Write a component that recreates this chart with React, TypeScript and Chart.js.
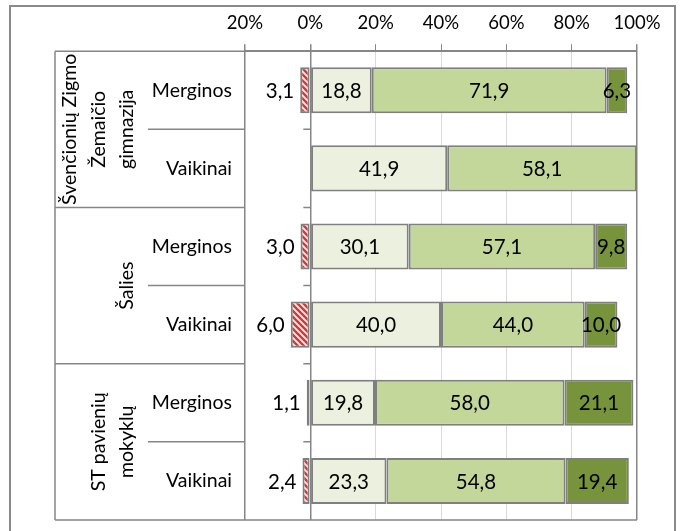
import React, { useEffect, useRef } from 'react';
import { Chart, registerables } from 'chart.js';

Chart.register(...registerables);

// ---- Data ----
const groupLabels: string[][] = [
  ['Švenčionių Zigmo', 'Žemaičio', 'gimnazija'],
  ['Šalies'],
  ['ST pavienių', 'mokyklų'],
];
const subLabels = ['Merginos', 'Vaikinai', 'Merginos', 'Vaikinai', 'Merginos', 'Vaikinai'];
const negValues: (number | null)[] = [-3.1, null, -3.0, -6.0, -1.1, -2.4];
const lowValues: (number | null)[] = [18.8, 41.9, 30.1, 40.0, 19.8, 23.3];
const midValues: (number | null)[] = [71.9, 58.1, 57.1, 44.0, 58.0, 54.8];
const highValues: (number | null)[] = [6.3, null, 9.8, 10.0, 21.1, 19.4];
const xMin = -20;
const xMax = 100;
const xStep = 20;

const FONT = 'Lato, "Open Sans", sans-serif';
const AXIS_GRAY = '#868686';
const GRID_GRAY = '#d9d9d9';

function makePattern(): CanvasPattern | string {
  const s = 6;
  const c = document.createElement('canvas');
  c.width = s;
  c.height = s;
  const p = c.getContext('2d');
  if (!p) return '#c0504d';
  p.fillStyle = '#fbe4e4';
  p.fillRect(0, 0, s, s);
  p.strokeStyle = '#c63d3a';
  p.lineWidth = 2.3;
  p.beginPath();
  for (const k of [-s, 0, s]) {
    p.moveTo(k - 1, -1);
    p.lineTo(k + s + 1, s + 1);
  }
  p.stroke();
  const pat = p.createPattern(c, 'repeat');
  return pat || '#c0504d';
}

const fmt = (v: number) => Math.abs(v).toFixed(1).replace('.', ',');

const decorPlugin = {
  id: 'decor',
  beforeDraw(chart: any) {
    const ctx = chart.ctx;
    ctx.save();
    ctx.fillStyle = '#ffffff';
    ctx.fillRect(0, 0, chart.width, chart.height);
    ctx.restore();
  },
  afterDraw(chart: any) {
    const ctx: CanvasRenderingContext2D = chart.ctx;
    const area = chart.chartArea;
    const xScale = chart.scales.x;
    const n = subLabels.length;
    const rowH = (area.bottom - area.top) / n;
    const catLeft = 55;
    const subLeft = 148;
    const x0 = xScale.getPixelForValue(0);

    ctx.save();
    // outer frame
    ctx.strokeStyle = '#8a8a8a';
    ctx.lineWidth = 2;
    ctx.strokeRect(10, 6, 665, 600);

    // category area lines
    ctx.strokeStyle = AXIS_GRAY;
    ctx.lineWidth = 1.5;
    ctx.beginPath();
    ctx.moveTo(catLeft, area.top);
    ctx.lineTo(area.left, area.top);
    ctx.moveTo(catLeft, area.bottom);
    ctx.lineTo(area.right, area.bottom);
    ctx.moveTo(catLeft, area.top);
    ctx.lineTo(catLeft, area.bottom);
    for (let i = 1; i < n; i++) {
      const y = area.top + i * rowH;
      ctx.moveTo(i % 2 === 0 ? catLeft : subLeft, y);
      ctx.lineTo(area.left, y);
      // ticks on the zero axis
      ctx.moveTo(x0 - 7, y);
      ctx.lineTo(x0, y);
    }
    ctx.stroke();

    // sub labels
    ctx.fillStyle = '#000';
    ctx.font = `19.5px ${FONT}`;
    ctx.textAlign = 'right';
    ctx.textBaseline = 'middle';
    subLabels.forEach((s, i) => {
      ctx.fillText(s, 232, area.top + (i + 0.5) * rowH);
    });

    // group labels (rotated)
    ctx.textAlign = 'center';
    groupLabels.forEach((lines, g) => {
      const cy = area.top + (g * 2 + 1) * rowH;
      const lastX = 127;
      lines.forEach((line, li) => {
        const cx = lastX - (lines.length - 1 - li) * 28.5;
        ctx.save();
        ctx.translate(cx, cy);
        ctx.rotate(-Math.PI / 2);
        ctx.fillText(line, 0, 0);
        ctx.restore();
      });
    });

    // data labels
    ctx.font = `20.5px ${FONT}`;
    chart.data.datasets.forEach((ds: any, di: number) => {
      const meta = chart.getDatasetMeta(di);
      meta.data.forEach((el: any, i: number) => {
        const v = ds.data[i];
        if (v === null || v === undefined) return;
        if (di === 0) {
          ctx.textAlign = 'right';
          ctx.fillText(fmt(v), Math.min(el.x, el.base) - 6, el.y + 1);
        } else {
          ctx.textAlign = 'center';
          ctx.fillText(fmt(v), (el.x + el.base) / 2, el.y + 1);
        }
      });
    });
    ctx.restore();
  },
};

export default function App() {
  const ref = useRef<HTMLCanvasElement | null>(null);

  useEffect(() => {
    const canvas = ref.current;
    if (!canvas) return;
    const pattern = makePattern();
    const common = {
      borderColor: '#7f7f7f',
      borderWidth: 2,
      borderSkipped: false,
      categoryPercentage: 1,
      barPercentage: 0.59,
    };
    const chart = new Chart(canvas, {
      type: 'bar',
      data: {
        labels: subLabels,
        datasets: [
          { label: 'neg', data: negValues, backgroundColor: pattern as any, ...common },
          { label: 'low', data: lowValues, backgroundColor: '#ebf1de', ...common },
          { label: 'mid', data: midValues, backgroundColor: '#c4d79b', ...common },
          { label: 'high', data: highValues, backgroundColor: '#77933c', ...common },
        ],
      },
      options: {
        indexAxis: 'y',
        animation: false,
        responsive: false,
        events: [],
        layout: { padding: { left: 245, right: 44, top: 2, bottom: 11 } },
        plugins: { legend: { display: false }, tooltip: { enabled: false } },
        scales: {
          x: {
            type: 'linear',
            position: 'top',
            stacked: true,
            min: xMin,
            max: xMax,
            ticks: {
              stepSize: xStep,
              color: '#000',
              font: { family: FONT, size: 18.5 },
              padding: 10,
              callback: (v: any) => Math.abs(Number(v)) + '%',
            },
            grid: {
              color: (c: any) => {
                const v = c.tick ? c.tick.value : null;
                return v === xMin || v === 0 || v === xMax ? AXIS_GRAY : GRID_GRAY;
              },
              lineWidth: (c: any) => {
                const v = c.tick ? c.tick.value : null;
                return v === xMin || v === 0 || v === xMax ? 1.5 : 1;
              },
              tickColor: AXIS_GRAY,
              tickLength: 7,
              drawTicks: true,
            },
            border: { display: true, color: AXIS_GRAY, width: 2 },
          },
          y: {
            type: 'category',
            stacked: true,
            display: false,
          },
        },
      } as any,
      plugins: [decorPlugin],
    });
    return () => chart.destroy();
  }, []);

  return (
    <div style={{ position: 'fixed', left: 0, top: 0, width: 681, height: 531, background: '#fff' }}>
      <canvas ref={ref} width={681} height={531} style={{ display: 'block' }} />
    </div>
  );
}
